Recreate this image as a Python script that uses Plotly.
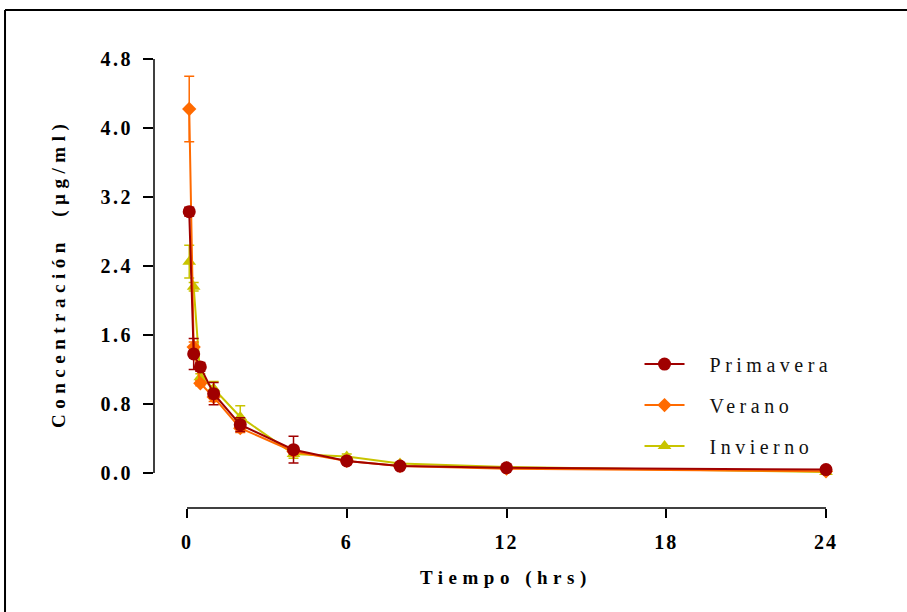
import plotly.graph_objects as go

# ---- data ----
tiempo = [0.083, 0.25, 0.5, 1, 2, 4, 6, 8, 12, 24]
primavera = [3.03, 1.38, 1.23, 0.92, 0.56, 0.27, 0.14, 0.08, 0.06, 0.04]
primavera_err = [0.05, 0.18, 0.05, 0.13, 0.08, 0.155, 0.04, 0.02, 0.02, 0.01]
verano = [4.22, 1.46, 1.04, 0.88, 0.52, 0.25, 0.14, 0.08, 0.05, 0.02]
verano_err = [0.38, 0.06, 0.03, 0.05, 0.05, 0.03, 0.03, 0.01, 0.01, 0.01]
invierno = [2.45, 2.16, 1.11, 0.98, 0.65, 0.22, 0.19, 0.11, 0.07, 0.01]
invierno_err = [0.19, 0.05, 0.04, 0.08, 0.13, 0.05, 0.03, 0.01, 0.01, 0.01]

x_ticks = [0, 6, 12, 18, 24]
x_ticktext = ["0", "6", "12", "18", "24"]
y_ticks = [0.0, 0.8, 1.6, 2.4, 3.2, 4.0, 4.8]
y_ticktext = ["0.0", "0.8", "1.6", "2.4", "3.2", "4.0", "4.8"]

series = [
    ("Invierno", invierno, invierno_err, "#C8C400", "triangle-up", 12, 3),
    ("Verano", verano, verano_err, "#FF6A00", "diamond", 11, 2),
    ("Primavera", primavera, primavera_err, "#A00000", "circle", 13, 1),
]

SERIF = "Liberation Serif, Times New Roman, serif"


def spaced(s, px):
    return f'<span style="letter-spacing:{px}px">{s}</span>'


fig = go.Figure()
for name, vals, err, color, sym, msize, rank in series:
    fig.add_trace(go.Scatter(
        x=tiempo, y=vals, name="\u2003" + spaced(name, 4.5),
        mode="lines+markers",
        line=dict(color=color, width=2),
        marker=dict(symbol=sym, size=msize, color=color),
        error_y=dict(type="data", array=err, color=color, thickness=1.5, width=5),
        legendgroup=name, legendrank=rank, cliponaxis=False,
    ))

fig.update_layout(
    width=907, height=612,
    margin=dict(l=154, r=81, t=59, b=104),
    paper_bgcolor="white", plot_bgcolor="white",
    showlegend=True,
    legend=dict(x=0.7225, y=0.364, xanchor="left", yanchor="top",
                font=dict(family=SERIF, size=20, color="#111"),
                tracegroupgap=12, bgcolor="rgba(0,0,0,0)", itemwidth=40),
    xaxis=dict(range=[-1.24, 24], tickvals=x_ticks, ticktext=[spaced(t, 2) for t in x_ticktext],
               showgrid=False, zeroline=False, showline=False,
               ticks="outside", ticklen=9, tickwidth=1.5, tickcolor="black",
               ticklabelstandoff=7,
               tickfont=dict(family=SERIF, size=20, color="black", weight="bold")),
    yaxis=dict(range=[-0.406, 4.8], tickvals=y_ticks, ticktext=[spaced(t, 2.5) for t in y_ticktext],
               showgrid=False, zeroline=False, showline=False,
               ticks="outside", ticklen=10, tickwidth=1.5, tickcolor="black",
               ticklabelstandoff=6,
               tickfont=dict(family=SERIF, size=20, color="black", weight="bold")),
    shapes=[
        # y axis line (0 to 4.8)
        dict(type="line", xref="paper", yref="y", x0=0, x1=0, y0=0, y1=4.8,
             line=dict(color="black", width=1.5)),
        # x axis line (0 to 24), offset below
        dict(type="line", xref="x", yref="paper", x0=0, x1=24, y0=0, y1=0,
             line=dict(color="black", width=1.5)),
        # outer frame
        dict(type="line", xref="paper", yref="paper", x0=-0.2217, x1=1.3, y0=1.109, y1=1.109,
             line=dict(color="black", width=2)),
        dict(type="line", xref="paper", yref="paper", x0=-0.2217, x1=-0.2217, y0=-0.3, y1=1.109,
             line=dict(color="black", width=2)),
    ],
    annotations=[
        dict(text="<b>" + spaced("Tiempo (hrs)", 5.5) + "</b>",
             xref="paper", yref="paper", x=(506 - 154) / 672, y=(508 - 578) / 449,
             xanchor="center", yanchor="middle", showarrow=False,
             font=dict(family=SERIF, size=19, color="black")),
        dict(text="<b>" + spaced("Concentración  (µg/ml)", 5.5) + "</b>",
             xref="paper", yref="paper", x=(59 - 154) / 672, y=(508 - 274) / 449,
             xanchor="center", yanchor="middle", showarrow=False, textangle=-90,
             font=dict(family=SERIF, size=19, color="black")),
    ],
)

fig.write_html("out.html")
